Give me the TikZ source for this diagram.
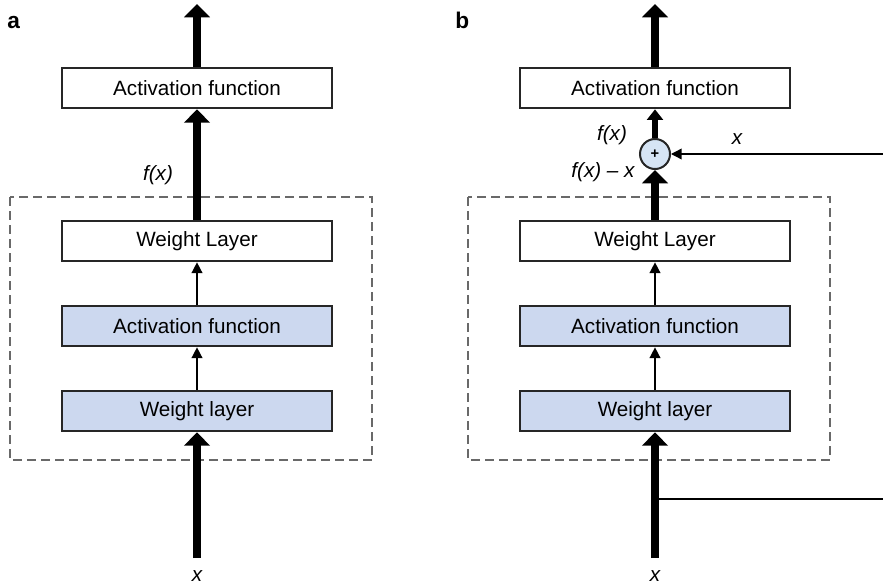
\documentclass[tikz,border=0pt]{standalone}
\usepackage{fontspec}
\setsansfont{Liberation Sans}
\usetikzlibrary{arrows.meta}
\definecolor{layerblue}{RGB}{204,216,239}
\definecolor{plusblue}{RGB}{214,228,244}
\definecolor{dashgray}{RGB}{105,105,105}
\tikzset{layer/.style={draw=black!85, line width=1.5pt, minimum width=202.5pt,
   minimum height=30.5pt, inner sep=0pt, font=\sffamily\fontsize{15.5}{18}\selectfont},
 bluelayer/.style={layer, fill=layerblue},
 lbl/.style={font=\sffamily\itshape\fontsize{15.5}{18}\selectfont, inner sep=0pt},
 big/.style={line width=6.5pt, -{Triangle[width=19pt,length=10pt]}},
 mid/.style={line width=4.5pt, -{Triangle[width=12pt,length=8pt]}},
 thinarrow/.style={line width=1.1pt, -{Triangle[width=8pt,length=8pt]}},
 frame/.style={draw=dashgray, line width=2pt, dash pattern=on 6.5pt off 4pt},
 }

\begin{document}
\begin{tikzpicture}[x=0.75pt,y=-0.75pt]
    \useasboundingbox (0,0) rectangle (883,585);
    \node[anchor=base west, font=\sffamily\bfseries\fontsize{17}{20}\selectfont, inner sep=0pt] (taga) at (7,29) {a};
    \node[anchor=base west, font=\sffamily\bfseries\fontsize{17}{20}\selectfont, inner sep=0pt] (tagb) at (455,29) {b};

    \foreach \c/\p in {197/a, 655/b} {
        \draw[frame] (\c-187, 197) rectangle (\c+175, 460);
        \node[layer] (act\p) at (\c, 88) {Activation function};
        \node[layer] (wlt\p) at (\c, 241) {Weight Layer};
        \node[bluelayer] (af\p) at (\c, 326) {Activation function};
        \node[bluelayer] (wlb\p) at (\c, 411) {Weight layer};
        \coordinate (in\p) at (\c, 558);
        \coordinate (out\p) at (\c, 4);
        \node[lbl] (x\p) at (\c, 576) {x};
        \draw[thinarrow] (wlb\p.north) -- (af\p.south);
        \draw[thinarrow] (af\p.north) -- (wlt\p.south);
        \draw[big] (act\p.north) -- (out\p);
    }

    \draw[big] (ina) -- (wlba.south);
    \draw[big] (wlta.north) -- (acta.south);
    \node[lbl] (fxa) at (158,175) {f(x)};

    \node[circle, draw=black!85, line width=1.5pt, fill=plusblue, minimum size=22.5pt, inner sep=0pt,
        font=\sffamily\bfseries\fontsize{11}{12}\selectfont] (plus) at (655,154) {+};
    \coordinate (split) at (655,499);
    \coordinate (rb) at (895,499);
    \coordinate (rt) at (895,154);
    \draw[thinarrow] (split) -- (rb) -- (rt) -- (plus);
    \draw[big] (inb) -- (wlbb.south);
    \draw[big] (wltb.north) -- (plus.south);
    \draw[mid] (plus.north) -- (actb.south);
    \node[lbl] (fxb) at (612,135) {f(x)};
    \node[lbl] (fxmx) at (603,172) {f(x) -- x};
    \node[lbl] (xskip) at (737,139) {x};
\end{tikzpicture}
\end{document}
